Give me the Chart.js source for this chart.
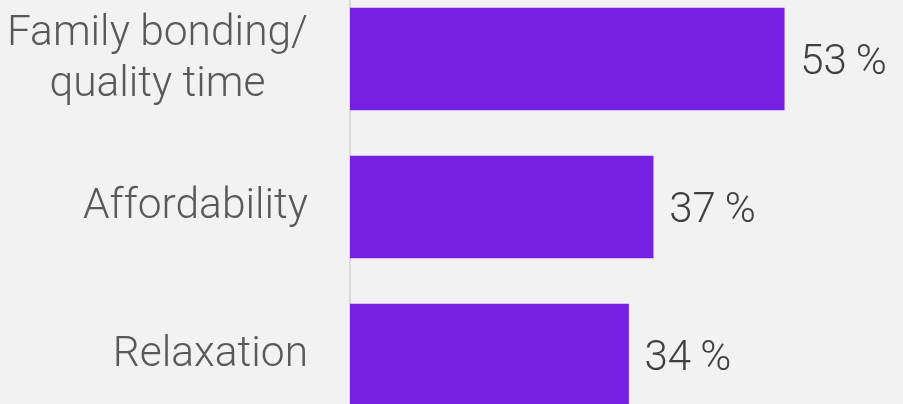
<!DOCTYPE html>
<html>
<head>
<meta charset="utf-8">
<script src="https://cdn.jsdelivr.net/npm/chart.js@4/dist/chart.umd.min.js"></script>
<style>
  html, body { margin: 0; padding: 0; background: #f2f2f2; overflow: hidden; width: 903px; height: 404px; }
  #wrap { position: absolute; left: 0; top: -15px; width: 903px; height: 444px; }
</style>
</head>
<body>
<div id="wrap"><canvas id="c" width="903" height="444"></canvas></div>
<script>
const categories = [['Family bonding/', 'quality time'], ['Affordability'], ['Relaxation']];
const values = [53, 37, 34];
const valueLabels = ['53%', '37%', '34%'];

// Draws value labels at the end of each bar, and category labels
// (block right-aligned to the axis, lines centred within the block).
const labelPlugin = {
  id: 'customLabels',
  afterDatasetsDraw(chart) {
    const ctx = chart.ctx;
    const meta = chart.getDatasetMeta(0);
    const yScale = chart.scales.y;
    ctx.save();

    // category labels
    ctx.font = '300 42.5px Roboto';
    ctx.fillStyle = '#595959';
    ctx.textAlign = 'center';
    ctx.textBaseline = 'alphabetic';
    const right = chart.chartArea.left - 42;
    const lineH = 51;
    yScale.ticks.forEach((t, i) => {
      const lines = categories[i];
      const cy = yScale.getPixelForTick(i);
      const bw = Math.max(...lines.map(l => ctx.measureText(l).width));
      const cx = right - bw / 2;
      lines.forEach((l, j) => {
        ctx.fillText(l, cx, cy + (j - (lines.length - 1) / 2) * lineH + 11);
      });
    });

    // value labels
    ctx.font = '300 42px Roboto';
    ctx.fillStyle = '#404040';
    ctx.textAlign = 'left';
    meta.data.forEach((bar, i) => {
      const label = valueLabels[i];
      const num = label.replace('%', '');
      const x = bar.x + 16;
      const y = bar.y + 15;
      ctx.fillText(num, x, y);
      const w = ctx.measureText(num).width;
      ctx.fillText('%', x + w + 9, y);
    });
    ctx.restore();
  }
};

new Chart(document.getElementById('c'), {
  type: 'bar',
  data: {
    labels: categories,
    datasets: [{
      data: values,
      backgroundColor: '#7620e4',
      borderWidth: 0,
      barThickness: 102
    }]
  },
  options: {
    indexAxis: 'y',
    responsive: false,
    animation: false,
    layout: { padding: 0 },
    plugins: { legend: { display: false }, tooltip: { enabled: false } },
    scales: {
      x: { display: false, min: 0, max: 67.5 },
      y: {
        afterFit(scale) { scale.width = 350; scale.paddingTop = 0; scale.paddingBottom = 0; },
        grid: { display: false, drawTicks: false },
        border: { display: true, color: '#d9d9d9', width: 2 },
        ticks: { display: false }
      }
    }
  },
  plugins: [labelPlugin]
});
</script>
</body>
</html>
